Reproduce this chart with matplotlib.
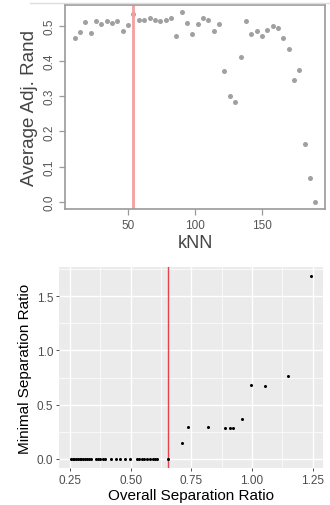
import matplotlib
matplotlib.use("Agg")
import matplotlib.pyplot as plt
from matplotlib.lines import Line2D

plt.rcParams['font.family'] = ['Liberation Sans', 'DejaVu Sans']

# ----------------------------
# top panel: adjusted Rand vs kNN
# ----------------------------
knn = [10, 14, 18, 22, 26, 30, 34, 38, 42, 46, 50, 54,
       58, 62, 66, 70, 74, 78, 82, 86, 90, 94, 98, 102,
       106, 110, 114, 118, 122, 126, 130, 134, 138, 142, 146, 150,
       154, 158, 162, 166, 170, 174, 178, 182, 186, 190]
adj_rand = [0.464, 0.483, 0.509, 0.480, 0.513, 0.503, 0.513, 0.508, 0.513, 0.485, 0.501, 0.532,
            0.517, 0.515, 0.520, 0.515, 0.513, 0.515, 0.520, 0.470, 0.537, 0.508, 0.475, 0.504,
            0.520, 0.516, 0.485, 0.503, 0.372, 0.301, 0.283, 0.412, 0.513, 0.476, 0.485, 0.469,
            0.487, 0.498, 0.492, 0.464, 0.434, 0.345, 0.375, 0.163, 0.067, 0.0]
knn_cut = 54

# ----------------------------
# bottom panel: separation ratios
# ----------------------------
overall_sep = [0.255, 0.262, 0.268, 0.275, 0.282, 0.289, 0.296, 0.304, 0.312, 0.320, 0.328, 0.336,
               0.356, 0.365, 0.375, 0.385, 0.396,
               0.419, 0.438, 0.456, 0.475, 0.499,
               0.525, 0.535, 0.545, 0.556, 0.566, 0.578, 0.590, 0.600, 0.609,
               0.652, 0.711, 0.738, 0.818, 0.890, 0.910, 0.921, 0.959, 0.997, 1.052, 1.147, 1.245]
minimal_sep = [0.0] * 32 + [0.151, 0.292, 0.292, 0.289, 0.289, 0.289, 0.372, 0.681, 0.675, 0.764, 1.684]
sep_cut = 0.652

fig = plt.figure(figsize=(3.30, 5.06), dpi=100)

# ---- top (R base graphics look)
ax1 = fig.add_axes([0.197, 0.584, 0.788, 0.404])
ax1.plot(knn, adj_rand, 'o', color='#a0a0a0', markersize=3.6, markeredgewidth=0)
ax1.axvline(knn_cut, color='#f4a0a0', linewidth=2)
ax1.set_xlim(2.8, 197.2)
ax1.set_ylim(-0.0215, 0.558)
ax1.set_xticks([50, 100, 150])
ax1.set_yticks([0.0, 0.1, 0.2, 0.3, 0.4, 0.5])
ax1.set_yticklabels(['0.0', '0.1', '0.2', '0.3', '0.4', '0.5'], rotation=90, va='center')
for s in ax1.spines.values():
    s.set_color('#9a9a9a')
    s.set_linewidth(1.2)
ax1.tick_params(direction='out', length=4, width=0.9, color='#9a9a9a',
                labelsize=8.5, labelcolor='#555555', pad=3)
ax1.set_xlabel('kNN', fontsize=13, color='#444444', labelpad=2)
ax1.set_ylabel('Average Adj. Rand', fontsize=13.5, color='#444444', labelpad=4)

# ---- bottom (ggplot2 look)
ax2 = fig.add_axes([0.180, 0.073, 0.800, 0.397])
ax2.set_facecolor('#ebebeb')
for v in [0.375, 0.625, 0.875, 1.125]:
    ax2.axvline(v, color='white', linewidth=0.5, zorder=0)
for v in [0.25, 0.75, 1.25, 1.75]:
    ax2.axhline(v, color='white', linewidth=0.5, zorder=0)
for v in [0.25, 0.5, 0.75, 1.0, 1.25]:
    ax2.axvline(v, color='white', linewidth=1.0, zorder=0)
for v in [0.0, 0.5, 1.0, 1.5]:
    ax2.axhline(v, color='white', linewidth=1.0, zorder=0)
ax2.axvline(sep_cut, color='#e8424f', linewidth=1.0, zorder=1)
ax2.plot(overall_sep, minimal_sep, 'o', color='black', markersize=2.2, markeredgewidth=0, zorder=2)
ax2.set_xlim(0.2060, 1.2945)
ax2.set_ylim(-0.0842, 1.768)
ax2.set_xticks([0.25, 0.5, 0.75, 1.0, 1.25])
ax2.set_xticklabels(['0.25', '0.50', '0.75', '1.00', '1.25'])
ax2.set_yticks([0.0, 0.5, 1.0, 1.5])
ax2.set_yticklabels(['0.0', '0.5', '1.0', '1.5'])
for s in ax2.spines.values():
    s.set_visible(False)
ax2.tick_params(direction='out', length=2.5, width=0.6, color='#333333',
                labelsize=8.5, labelcolor='#4d4d4d', pad=2)
ax2.set_xlabel('Overall Separation Ratio', fontsize=11, color='black', labelpad=1)
ax2.set_ylabel('Minimal Separation Ratio', fontsize=11, color='black', labelpad=3)

# faint border line from the original screenshot
fig.add_artist(Line2D([0.09, 1.0], [0.992, 0.992], color='#dddddd', linewidth=1))

fig.savefig('out.png', dpi=100)
